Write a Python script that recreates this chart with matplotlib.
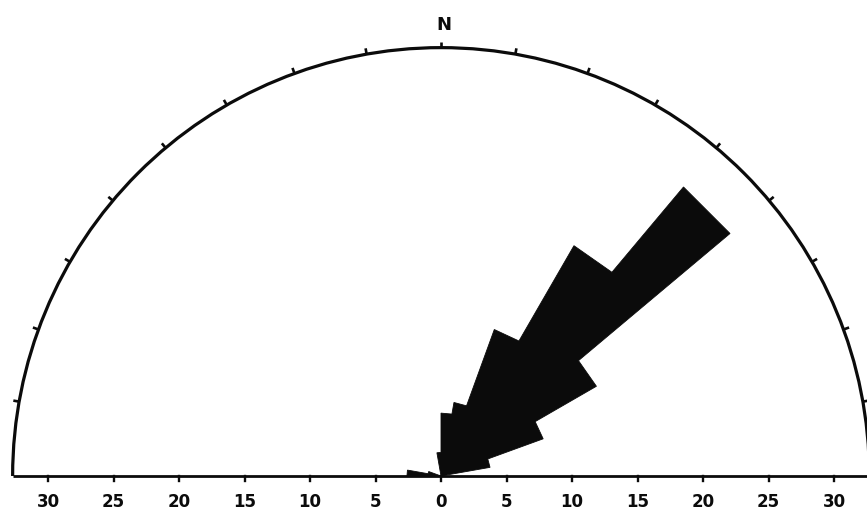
import numpy as np
import matplotlib
matplotlib.use("Agg")
import matplotlib.pyplot as plt
from matplotlib.patches import Arc

# --- data -------------------------------------------------------------
# azimuth bins (degrees clockwise from North), start of each 10-degree class
bin_start = [-90, -80, -70, -60, -50, -40, -30, -20, -10,
             0, 10, 20, 30, 40, 50, 60, 70, 80]
# petal lengths
lengths = [2.6, 1.0, 0, 0, 0, 0, 0, 0, 1.8,
           4.8, 5.7, 11.9, 20.3, 28.8, 13.7, 8.3, 3.8, 0]
bin_width = 10
scale_ticks = [-30, -25, -20, -15, -10, -5, 0, 5, 10, 15, 20, 25, 30]
scale_labels = [str(abs(t)) for t in scale_ticks]
arc_ticks = list(range(-80, 81, 10))
outer_radius = 32.7

# --- figure -----------------------------------------------------------
W, H = 867, 512
px_per_unit = 13.1
cx, cy = 441, 476  # centre in pixels from top-left

fig = plt.figure(figsize=(W / 100, H / 100), dpi=100)
ax = fig.add_axes([0, 0, 1, 1])
ax.set_xlim(-cx / px_per_unit, (W - cx) / px_per_unit)
ax.set_ylim(-(H - cy) / px_per_unit, cy / px_per_unit)
ax.set_aspect("equal")
ax.axis("off")

ink = "#0b0b0b"

# petals: one outline polygon, straight outer edge per class
xs, ys = [0.0], [0.0]
for a, L in zip(bin_start, lengths):
    for az in (a, a + bin_width):
        th = np.deg2rad(90 - az)
        xs.append(L * np.cos(th))
        ys.append(L * np.sin(th))
xs.append(0.0)
ys.append(0.0)
ax.fill(xs, ys, facecolor=ink, edgecolor=ink, linewidth=0.6, zorder=2)

# outer semicircle
ax.add_patch(Arc((0, 0), 2 * outer_radius, 2 * outer_radius, theta1=0, theta2=180,
                 color=ink, linewidth=2.3, zorder=3))

# ticks on arc (outward)
for az in arc_ticks:
    th = np.deg2rad(90 - az)
    r0, r1 = outer_radius, outer_radius + 0.45
    ax.plot([r0 * np.cos(th), r1 * np.cos(th)], [r0 * np.sin(th), r1 * np.sin(th)],
            color=ink, linewidth=1.9, solid_capstyle="butt", zorder=3)

# N label
ax.text(0.2, outer_radius + 1.75, "N", ha="center", va="center",
        fontsize=13, fontweight="bold", color=ink)

# base line with radial scale
ax.plot([-outer_radius, outer_radius], [0, 0], color=ink, linewidth=2.0,
        solid_capstyle="butt", zorder=3)
for t, lab in zip(scale_ticks, scale_labels):
    ax.plot([t, t], [0, -0.35], color=ink, linewidth=1.7, zorder=3)
    ax.text(t, -2.0, lab, ha="center", va="center", fontsize=12,
            fontweight="bold", color=ink)

fig.savefig("out.png", dpi=100, facecolor="white")
